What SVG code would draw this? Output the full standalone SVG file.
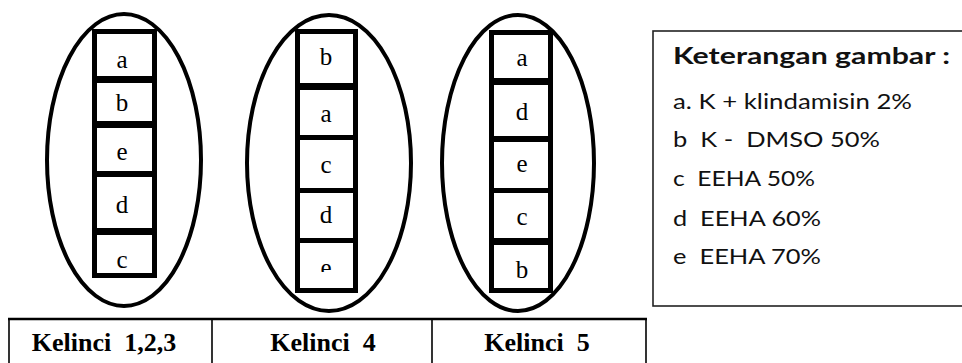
<svg xmlns="http://www.w3.org/2000/svg" width="962" height="363" viewBox="0 0 962 363">
  <style>
    .oval { fill: none; stroke: #000; stroke-width: 4; }
    .cell { fill: #fff; stroke: #000; stroke-width: 5; }
    .lbl { font-family: "Liberation Serif", "Times New Roman", serif; font-size: 25px; fill: #000; text-anchor: middle; }
    .tbl { fill: none; stroke: #000; }
    .head { font-family: "Liberation Serif", "Times New Roman", serif; font-size: 26px; font-weight: bold; fill: #000; text-anchor: middle; white-space: pre; }
    .key { font-family: Lato, "Open Sans", "Liberation Sans", sans-serif; font-size: 22px; fill: #111; white-space: pre; }
    .keyTitle { font-weight: bold; }
  </style>
  <defs>
    <clipPath id="clipE">
      <rect x="300" y="250" width="55" height="22"/>
    </clipPath>
  </defs>
  <rect width="962" height="363" fill="#fff"/>

  <!-- group 1: rabbits 1,2,3 -->
  <g id="kelinci-123">
    <ellipse class="oval" cx="124" cy="160" rx="77" ry="146"/>
    <rect class="cell" x="94.5" y="31.5" width="60" height="47"/>
    <rect class="cell" x="94.5" y="80.5" width="60" height="43"/>
    <rect class="cell" x="94.5" y="125.5" width="60" height="48"/>
    <rect class="cell" x="94.5" y="174.5" width="60" height="56"/>
    <rect class="cell" x="94.5" y="232.5" width="60" height="43"/>
    <text class="lbl" x="122" y="68">a</text>
    <text class="lbl" x="122" y="111">b</text>
    <text class="lbl" x="122" y="160">e</text>
    <text class="lbl" x="122" y="213">d</text>
    <text class="lbl" x="122" y="268">c</text>
  </g>

  <!-- group 2: rabbit 4 -->
  <g id="kelinci-4">
    <ellipse class="oval" cx="329" cy="163" rx="82" ry="148"/>
    <rect class="cell" x="297.5" y="31.5" width="58" height="54"/>
    <rect class="cell" x="297.5" y="87.5" width="58" height="50"/>
    <rect class="cell" x="297.5" y="137.5" width="58" height="53"/>
    <rect class="cell" x="297.5" y="190.5" width="58" height="50"/>
    <rect class="cell" x="297.5" y="240.5" width="58" height="50"/>
    <text class="lbl" x="326" y="65">b</text>
    <text class="lbl" x="326" y="122">a</text>
    <text class="lbl" x="326" y="173">c</text>
    <text class="lbl" x="326" y="223">d</text>
    <text class="lbl" x="326" y="276" clip-path="url(#clipE)">e</text>
  </g>

  <!-- group 3: rabbit 5 -->
  <g id="kelinci-5">
    <ellipse class="oval" cx="518" cy="163" rx="76" ry="148"/>
    <rect class="cell" x="491.5" y="32.5" width="59" height="48"/>
    <rect class="cell" x="491.5" y="82.5" width="59" height="56"/>
    <rect class="cell" x="491.5" y="139.5" width="59" height="51"/>
    <rect class="cell" x="491.5" y="190.5" width="59" height="50"/>
    <rect class="cell" x="491.5" y="242.5" width="59" height="48"/>
    <text class="lbl" x="522" y="66">a</text>
    <text class="lbl" x="522" y="120">d</text>
    <text class="lbl" x="522" y="172">e</text>
    <text class="lbl" x="522" y="225">c</text>
    <text class="lbl" x="522" y="278">b</text>
  </g>

  <!-- header table -->
  <g id="table">
    <line class="tbl" x1="8" y1="319" x2="647" y2="319" stroke-width="2.5"/>
    <line class="tbl" x1="9" y1="318" x2="9" y2="363" stroke-width="1.6"/>
    <line class="tbl" x1="212" y1="318" x2="212" y2="363" stroke-width="1.6"/>
    <line class="tbl" x1="432" y1="318" x2="432" y2="363" stroke-width="1.6"/>
    <line class="tbl" x1="646" y1="318" x2="646" y2="363" stroke-width="1.6"/>
    <text class="head" x="104" y="351" xml:space="preserve">Kelinci  1,2,3</text>
    <text class="head" x="323" y="351" xml:space="preserve">Kelinci  4</text>
    <text class="head" x="537" y="351" xml:space="preserve">Kelinci  5</text>
  </g>

  <!-- legend -->
  <g id="legend">
    <rect x="653" y="31" width="320" height="275" fill="#fff" stroke="#222" stroke-width="1.6"/>
    <text class="key keyTitle" x="673" y="64" textLength="277" lengthAdjust="spacingAndGlyphs">Keterangan gambar :</text>
    <text class="key" x="673" y="109" textLength="239" lengthAdjust="spacingAndGlyphs">a. K + klindamisin 2%</text>
    <text class="key" x="673" y="147" textLength="207" lengthAdjust="spacingAndGlyphs" xml:space="preserve">b  K -  DMSO 50%</text>
    <text class="key" x="673" y="186" textLength="142" lengthAdjust="spacingAndGlyphs" xml:space="preserve">c  EEHA 50%</text>
    <text class="key" x="673" y="226" textLength="148" lengthAdjust="spacingAndGlyphs" xml:space="preserve">d  EEHA 60%</text>
    <text class="key" x="673" y="264" textLength="148" lengthAdjust="spacingAndGlyphs" xml:space="preserve">e  EEHA 70%</text>
  </g>
</svg>
